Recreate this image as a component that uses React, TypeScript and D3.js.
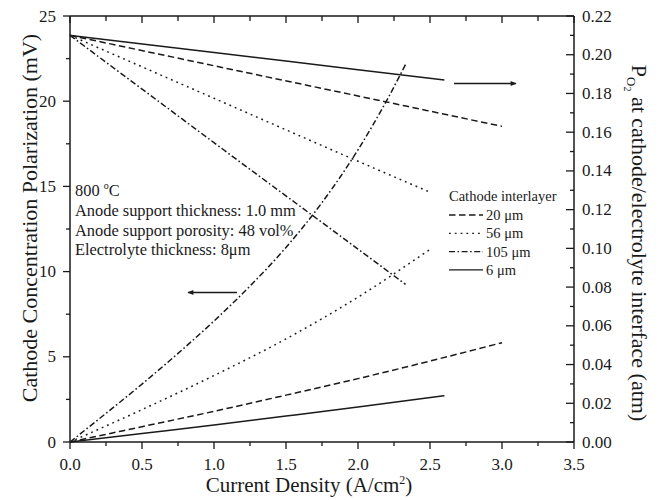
import React from "react";
import * as d3 from "d3";

// ---- data ----
// Left axis: cathode concentration polarization (mV) vs current density (A/cm2)
const pol6X = [0, 0.5, 1.0, 1.5, 2.0, 2.6];
const pol6Y = [0, 0.5, 1.0, 1.52, 2.05, 2.72];
const pol20X = [0, 0.5, 1.0, 1.5, 2.0, 2.5, 3.0];
const pol20Y = [0, 0.9, 1.8, 2.75, 3.72, 4.75, 5.83];
const pol56X = [0, 0.5, 1.0, 1.5, 2.0, 2.5];
const pol56Y = [0, 1.9, 3.9, 6.05, 8.5, 11.3];
const pol105X = [0, 0.25, 0.5, 0.75, 1.0, 1.25, 1.5, 1.75, 2.0, 2.2, 2.33];
const pol105Y = [0, 1.68, 3.4, 5.2, 7.1, 9.15, 11.42, 14.05, 17.15, 20.05, 22.15];

// Right axis: P_O2 at cathode/electrolyte interface (atm)
const po6X = [0, 1.0, 2.0, 2.6];
const po6Y = [0.21, 0.2012, 0.1923, 0.187];
const po20X = [0, 1.0, 2.0, 3.0];
const po20Y = [0.21, 0.1943, 0.1787, 0.163];
const po56X = [0, 1.0, 2.0, 2.5];
const po56Y = [0.21, 0.1775, 0.145, 0.129];
const po105X = [0, 1.0, 2.0, 2.33];
const po105Y = [0.21, 0.1546, 0.0996, 0.0814];

const xTicks = [0, 0.5, 1.0, 1.5, 2.0, 2.5, 3.0, 3.5];
const yLeftTicks = [0, 5, 10, 15, 20, 25];
const yRightTicks = [0, 0.02, 0.04, 0.06, 0.08, 0.1, 0.12, 0.14, 0.16, 0.18, 0.2, 0.22];

const legendLabels = ["20 \u03bcm", "56 \u03bcm", "105 \u03bcm", "6 \u03bcm"];
const annotationLines = [
  "Anode support thickness: 1.0 mm",
  "Anode support porosity: 48 vol%",
  "Electrolyte thickness: 8\u03bcm",
];

const FONT = "Liberation Serif, Times New Roman, DejaVu Serif, serif";
const INK = "#1a1a1a";

const dashes: Record<string, string | undefined> = {
  solid: undefined,
  dash: "6.5,3.5",
  dot: "1.8,4",
  dashdot: "6,2.5,1.6,2.5",
};

export default function App() {
  const W = 661;
  const H = 500;
  const L = 70, R = 574, T = 16, B = 442;

  const x = d3.scaleLinear().domain([0, 3.5]).range([L, R]);
  const yL = d3.scaleLinear().domain([0, 25]).range([B, T]);
  const yR = d3.scaleLinear().domain([0, 0.22]).range([B, T]);

  const mk = (xs: number[], ys: number[], sy: d3.ScaleLinear<number, number>) => {
    const pts = xs.map((v, i) => [v, ys[i]] as [number, number]);
    return d3
      .line<[number, number]>()
      .x((d) => x(d[0]))
      .y((d) => sy(d[1]))
      .curve(d3.curveMonotoneX)(pts) as string;
  };

  const series = [
    { d: mk(pol20X, pol20Y, yL), s: "dash" },
    { d: mk(pol56X, pol56Y, yL), s: "dot" },
    { d: mk(pol105X, pol105Y, yL), s: "dashdot" },
    { d: mk(pol6X, pol6Y, yL), s: "solid" },
    { d: mk(po20X, po20Y, yR), s: "dash" },
    { d: mk(po56X, po56Y, yR), s: "dot" },
    { d: mk(po105X, po105Y, yR), s: "dashdot" },
    { d: mk(po6X, po6Y, yR), s: "solid" },
  ];

  const xMinor = d3.range(0, 3.5001, 0.25);
  const yLMinor = d3.range(0, 25.001, 2.5);
  const yRMinor = d3.range(0, 0.2201, 0.01);

  const legendStyles = ["dash", "dot", "dashdot", "solid"];

  return (
    <svg
      width={W}
      height={H}
      style={{ position: "absolute", left: 0, top: 0, background: "#fff", fontFamily: FONT }}
    >
      <rect x={0} y={0} width={W} height={H} fill="#fff" />
      <defs>
        <marker id="ah" viewBox="0 0 10 10" refX="9" refY="5" markerWidth="8" markerHeight="6" orient="auto" markerUnits="userSpaceOnUse">
          <path d="M0,1 L10,5 L0,9 Z" fill={INK} />
        </marker>
      </defs>

      {/* series */}
      {series.map((se, i) => (
        <path key={i} d={se.d} fill="none" stroke={INK} strokeWidth={1.5} strokeDasharray={dashes[se.s]} />
      ))}

      {/* frame */}
      <line x1={L} y1={T} x2={R} y2={T} stroke={INK} strokeWidth={1.5} />
      <line x1={L} y1={B} x2={R} y2={B} stroke={INK} strokeWidth={1.5} />
      <line x1={L} y1={T} x2={L} y2={B} stroke={INK} strokeWidth={1.5} />
      <line x1={R} y1={T} x2={R} y2={B} stroke={INK} strokeWidth={1.5} />

      {/* bottom ticks (outward) */}
      {xMinor.map((v, i) => {
        const major = i % 2 === 0;
        return <line key={"bx" + i} x1={x(v)} x2={x(v)} y1={B} y2={B + (major ? 7 : 4)} stroke={INK} strokeWidth={1.3} />;
      })}
      {/* top ticks (inward) */}
      {xMinor.map((v, i) => {
        const major = i % 2 === 0;
        return <line key={"tx" + i} x1={x(v)} x2={x(v)} y1={T} y2={T + (major ? 7 : 5)} stroke={INK} strokeWidth={1.3} />;
      })}
      {xTicks.map((v) => (
        <text key={"xl" + v} x={x(v)} y={470} fontSize={17} textAnchor="middle" fill={INK}>
          {v.toFixed(1)}
        </text>
      ))}

      {/* left ticks (outward) */}
      {yLMinor.map((v, i) => {
        const major = i % 2 === 0;
        return <line key={"ly" + i} x1={L - (major ? 7 : 4)} x2={L} y1={yL(v)} y2={yL(v)} stroke={INK} strokeWidth={1.3} />;
      })}
      {yLeftTicks.map((v) => (
        <text key={"yl" + v} x={L - 14} y={yL(v) + 5.5} fontSize={17} textAnchor="end" fill={INK}>
          {v}
        </text>
      ))}

      {/* right ticks (inward) */}
      {yRMinor.map((v, i) => {
        const major = i % 2 === 0;
        return <line key={"ry" + i} x1={R - (major ? 8 : 4)} x2={R} y1={yR(v)} y2={yR(v)} stroke={INK} strokeWidth={1.3} />;
      })}
      {yRightTicks.map((v) => (
        <text key={"yr" + v} x={R + 8} y={yR(v) + 5.5} fontSize={17} textAnchor="start" fill={INK}>
          {v.toFixed(2)}
        </text>
      ))}

      {/* axis titles */}
      <text x={309} y={492} fontSize={21} textAnchor="middle" fill={INK}>
        Current Density (A/cm
        <tspan fontSize={12} dy={-8}>2</tspan>
        <tspan dy={8}>)</tspan>
      </text>
      <text transform={`translate(37, 218) rotate(-90)`} fontSize={22} textAnchor="middle" fill={INK}>
        Cathode Concentration Polarization (mV)
      </text>
      <text transform={`translate(632, 243) rotate(90)`} fontSize={22} textAnchor="middle" fill={INK}>
        P
        <tspan fontSize={13} dy={5}>O</tspan>
        <tspan fontSize={10} dy={3}>2</tspan>
        <tspan dy={-8}> at cathode/electrolyte interface (atm)</tspan>
      </text>

      {/* annotation */}
      <text x={75} y={196} fontSize={16.4} fill={INK}>
        800 <tspan fontSize={10} dy={-7}>o</tspan>
        <tspan dy={7}>C</tspan>
      </text>
      {annotationLines.map((t, i) => (
        <text key={t} x={75} y={216 + i * 19.5} fontSize={16.4} fill={INK}>
          {t}
        </text>
      ))}

      {/* legend */}
      <text x={449} y={201} fontSize={14.5} fill={INK}>Cathode interlayer</text>
      {legendLabels.map((lab, i) => {
        const yy = 215 + i * 18.3;
        return (
          <g key={lab}>
            <line x1={449} x2={483} y1={yy} y2={yy} stroke={INK} strokeWidth={1.3} strokeDasharray={dashes[legendStyles[i]]} />
            <text x={486} y={yy + 5} fontSize={14.5} fill={INK}>{lab}</text>
          </g>
        );
      })}

      {/* arrows */}
      <line x1={237} y1={292.5} x2={188} y2={292.5} stroke={INK} strokeWidth={1.4} markerEnd="url(#ah)" />
      <line x1={454} y1={83.5} x2={516} y2={83.5} stroke={INK} strokeWidth={1.4} markerEnd="url(#ah)" />
    </svg>
  );
}
